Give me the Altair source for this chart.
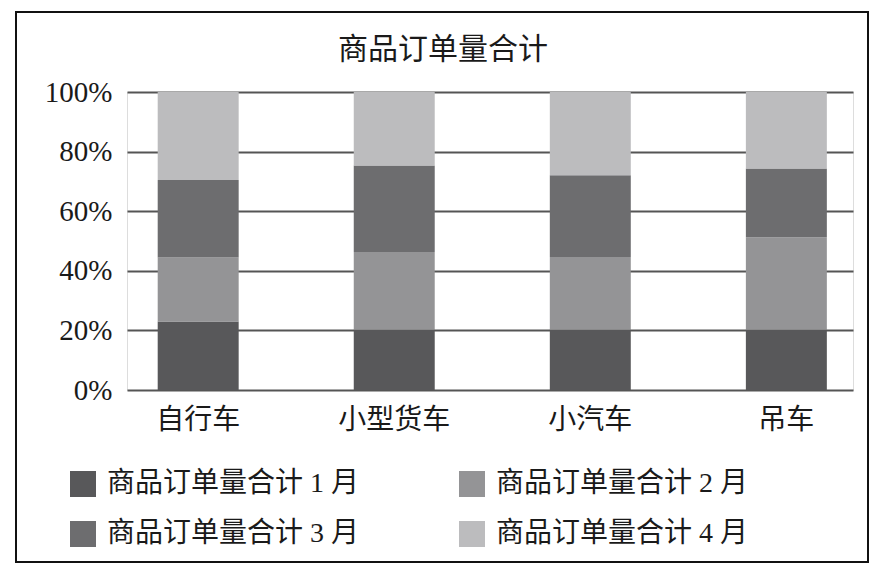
import altair as alt
import pandas as pd

categories = ["自行车", "小型货车", "小汽车", "吊车"]
series = ["商品订单量合计 1 月", "商品订单量合计 2 月", "商品订单量合计 3 月", "商品订单量合计 4 月"]
# share of each month per category (percent)
m1 = [23.0, 20.3, 20.3, 20.3]
m2 = [21.5, 26.0, 24.3, 31.0]
m3 = [26.0, 29.0, 27.5, 23.0]
m4 = [29.5, 24.7, 27.9, 25.7]
colors = ["#58585a", "#949496", "#6d6d6f", "#bcbcbe"]

rows = []
for si, (name, vals) in enumerate(zip(series, [m1, m2, m3, m4])):
    for c, v in zip(categories, vals):
        rows.append({"category": c, "series": name, "value": v, "ord": si})
df = pd.DataFrame(rows)

FONT = "Liberation Serif, Noto Sans CJK SC"

bars = alt.Chart(df).mark_bar().encode(
    x=alt.X("category:N", sort=categories,
            scale=alt.Scale(paddingInner=0.587, paddingOuter=0.145, align=0.54),
            axis=alt.Axis(title=None, labelAngle=0, domain=False, ticks=False, tickSize=0,
                          labelPadding=16, labelFontSize=28, labelFont=FONT,
                          labelColor="#1a1a1a", grid=False)),
    y=alt.Y("value:Q", stack="normalize",
            scale=alt.Scale(domain=[0, 1]),
            axis=alt.Axis(title=None, format="0%", values=[0, 0.2, 0.4, 0.6, 0.8, 1.0],
                          domain=False, ticks=False, tickSize=0, labelPadding=15,
                          labelFontSize=29, labelFont=FONT, labelColor="#1a1a1a",
                          grid=True, gridColor="#555555", gridWidth=2)),
    color=alt.Color("series:N", sort=series,
                    scale=alt.Scale(domain=series, range=colors),
                    legend=alt.Legend(title=None, orient="none", legendX=-58, legendY=378,
                                      direction="horizontal",
                                      columns=2, columnPadding=98, rowPadding=22,
                                      symbolType="square", symbolSize=676,
                                      symbolStrokeWidth=0, labelOffset=10,
                                      labelFontSize=28, labelFont=FONT,
                                      labelColor="#1a1a1a", labelLimit=400, padding=0)),
    order=alt.Order("ord:Q", sort="ascending"),
)

border = alt.Chart(pd.DataFrame({"k": [0]})).mark_rect(
    fill=None, stroke="#111111", strokeWidth=2
).encode(
    x=alt.value(-111), x2=alt.value(741), y=alt.value(-80), y2=alt.value(470)
)

chart = alt.layer(bars, border).properties(
    width=726, height=298,
    autosize=alt.AutoSizeParams(type="none"),
    padding={"left": 119, "top": 84, "right": 20, "bottom": 175},
    title=alt.Title("商品订单量合计", font=FONT, fontSize=30, fontWeight="normal",
                    color="#1a1a1a", anchor="middle", frame="group", dx=-47, offset=-54),
).configure_view(stroke=None).configure(background="white")

chart.save("out.html", embed_options={"renderer": "svg", "actions": False})
